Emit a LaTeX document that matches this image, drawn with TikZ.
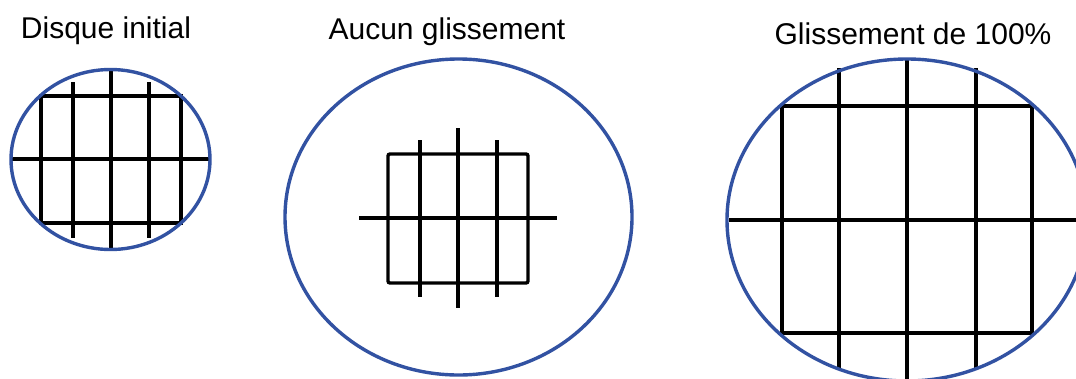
\documentclass[tikz,border=0pt]{standalone}
\usepackage{fontspec}
\setmainfont{Liberation Sans}
\definecolor{diskblue}{RGB}{50,82,162}
\begin{document}
\begin{tikzpicture}[x=1pt,y=-1pt,
  rim/.style={draw=diskblue,line width=3.4pt},
  grid/.style={draw=black,line width=3.4pt},
  label/.style={anchor=base,inner sep=0pt,font=\fontsize{30}{34}\selectfont}]
\useasboundingbox (0,0) rectangle (1076,378);
\clip (0,0) rectangle (1076,378);
% disk 1
\node[label] (t1) at (106,38) {Disque initial};
\draw[grid] (41,96) rectangle (181,223);
\draw[grid] (12,159) -- (209,159);
\draw[grid] (73,82) -- (73,238);
\draw[grid] (111,71) -- (111,249);
\draw[grid] (149,82) -- (149,238);
\draw[rim] (110.5,159.5) ellipse [x radius=99.5,y radius=90];
% disk 2
\node[label] (t2) at (447,39) {Aucun glissement};
\draw[grid,rounded corners=2pt] (388,154) rectangle (528,283);
\draw[grid] (359,218) -- (557,218);
\draw[grid] (420,140) -- (420,297);
\draw[grid] (458,128) -- (458,308);
\draw[grid] (497,140) -- (497,297);
\draw[rim] (458.5,217) ellipse [x radius=173.5,y radius=158];
% disk 3
\node[label] (t3) at (913,44) {Glissement de 100\%};
\draw[grid] (782,106) rectangle (1032,333);
\draw[grid] (729,220) -- (1080,220);
\draw[grid] (839,68) -- (839,370);
\draw[grid] (907,59) -- (907,390);
\draw[grid] (976,68) -- (976,370);
\draw[rim] (907,220) ellipse [x radius=180,y radius=161];
\end{tikzpicture}
\end{document}
